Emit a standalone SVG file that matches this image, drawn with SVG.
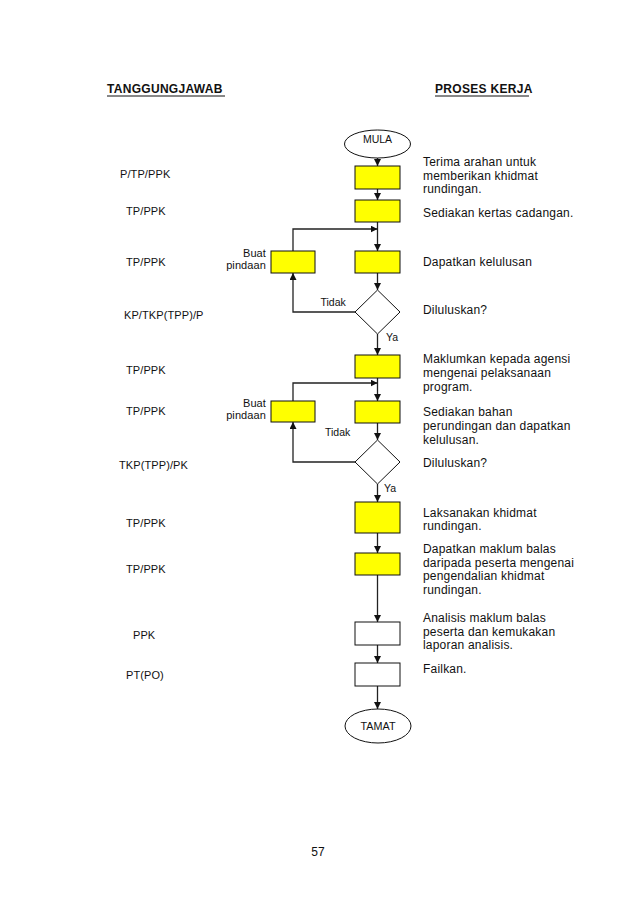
<svg xmlns="http://www.w3.org/2000/svg" width="638" height="901" viewBox="0 0 638 901">
<style>
text{font-family:"Liberation Sans",Arial,sans-serif;fill:#111}
.h{font-size:12px;font-weight:bold;letter-spacing:0.3px}
.r{font-size:12px;letter-spacing:0.2px}
.l{font-size:11px;letter-spacing:0.1px}
.s{font-size:10.5px}
.y{fill:#FFFF00;stroke:#111;stroke-width:1}
.w{fill:#fff;stroke:#111;stroke-width:1}
.c{fill:none;stroke:#222;stroke-width:1.3}
</style>
<defs>
<marker id="a" markerUnits="userSpaceOnUse" markerWidth="7" markerHeight="7" refX="7" refY="3.5" orient="auto">
<path d="M0,0 L7,3.5 L0,7 z" fill="#111"/>
</marker>
</defs>
<rect width="638" height="901" fill="#fff"/>

<g id="headers">
<text class="h" x="107" y="93">TANGGUNGJAWAB</text>
<line x1="107" y1="96" x2="225" y2="96" stroke="#111" stroke-width="1"/>
<text class="h" x="435" y="93">PROSES KERJA</text>
<line x1="435" y1="96" x2="529" y2="96" stroke="#111" stroke-width="1"/>
</g>

<g id="responsibility">
<text class="l" x="120" y="178">P/TP/PPK</text>
<text class="l" x="126" y="215">TP/PPK</text>
<text class="l" x="126" y="266">TP/PPK</text>
<text class="l" x="124" y="319">KP/TKP(TPP)/P</text>
<text class="l" x="126" y="374">TP/PPK</text>
<text class="l" x="126" y="415">TP/PPK</text>
<text class="l" x="119" y="469">TKP(TPP)/PK</text>
<text class="l" x="126" y="527">TP/PPK</text>
<text class="l" x="126" y="573">TP/PPK</text>
<text class="l" x="133" y="639">PPK</text>
<text class="l" x="126" y="679">PT(PO)</text>
</g>

<g id="process-text">
<text class="r" x="423" y="165.5">Terima arahan untuk</text>
<text class="r" x="423" y="179.5">memberikan khidmat</text>
<text class="r" x="423" y="193">rundingan.</text>
<text class="r" x="423" y="217">Sediakan kertas cadangan.</text>
<text class="r" x="423" y="265.5">Dapatkan kelulusan</text>
<text class="r" x="423" y="313.5">Diluluskan?</text>
<text class="r" x="423" y="363">Maklumkan kepada agensi</text>
<text class="r" x="423" y="377">mengenai pelaksanaan</text>
<text class="r" x="423" y="390.5">program.</text>
<text class="r" x="423" y="416">Sediakan bahan</text>
<text class="r" x="423" y="430">perundingan dan dapatkan</text>
<text class="r" x="423" y="443.5">kelulusan.</text>
<text class="r" x="423" y="467">Diluluskan?</text>
<text class="r" x="423" y="517">Laksanakan khidmat</text>
<text class="r" x="423" y="530">rundingan.</text>
<text class="r" x="423" y="553">Dapatkan maklum balas</text>
<text class="r" x="423" y="566.5">daripada peserta mengenai</text>
<text class="r" x="423" y="580">pengendalian khidmat</text>
<text class="r" x="423" y="593.5">rundingan.</text>
<text class="r" x="423" y="622">Analisis maklum balas</text>
<text class="r" x="423" y="635.5">peserta dan kemukakan</text>
<text class="r" x="423" y="649">laporan analisis.</text>
<text class="r" x="423" y="673">Failkan.</text>
</g>

<g id="connectors">
<line class="c" x1="377.5" y1="158" x2="377.5" y2="166" marker-end="url(#a)"/>
<line class="c" x1="377.5" y1="189" x2="377.5" y2="200" marker-end="url(#a)"/>
<line class="c" x1="377.5" y1="222" x2="377.5" y2="251" marker-end="url(#a)"/>
<polyline class="c" points="293,251 293,229 377.5,229" marker-end="url(#a)"/>
<line class="c" x1="377.5" y1="273" x2="377.5" y2="290" marker-end="url(#a)"/>
<polyline class="c" points="355,312 293,312 293,273" marker-end="url(#a)"/>
<line class="c" x1="377.5" y1="334" x2="377.5" y2="355" marker-end="url(#a)"/>
<line class="c" x1="377.5" y1="378" x2="377.5" y2="401" marker-end="url(#a)"/>
<polyline class="c" points="293,401 293,383 377.5,383" marker-end="url(#a)"/>
<line class="c" x1="377.5" y1="423" x2="377.5" y2="440" marker-end="url(#a)"/>
<polyline class="c" points="355,462 293,462 293,422" marker-end="url(#a)"/>
<line class="c" x1="377.5" y1="484" x2="377.5" y2="502" marker-end="url(#a)"/>
<line class="c" x1="377.5" y1="533" x2="377.5" y2="553" marker-end="url(#a)"/>
<line class="c" x1="377.5" y1="575" x2="377.5" y2="622" marker-end="url(#a)"/>
<line class="c" x1="377.5" y1="645" x2="377.5" y2="663" marker-end="url(#a)"/>
<line class="c" x1="377.5" y1="686" x2="377.5" y2="709" marker-end="url(#a)"/>
<text class="s" x="320.5" y="305.5">Tidak</text>
<text class="s" x="386" y="341">Ya</text>
<text class="s" x="325" y="436">Tidak</text>
<text class="s" x="384" y="491.5">Ya</text>
</g>

<g id="mula">
<ellipse class="w" cx="377.5" cy="144" rx="33" ry="14"/>
<text class="s" x="377.5" y="142.5" text-anchor="middle">MULA</text>
</g>
<g id="step1"><rect class="y" x="355" y="166" width="45" height="23"/></g>
<g id="step2"><rect class="y" x="355" y="200" width="45" height="22"/></g>
<g id="step3"><rect class="y" x="355" y="251" width="45" height="22"/></g>
<g id="amend1">
<rect class="y" x="271" y="251" width="44" height="22"/>
<text class="l" x="266" y="257" text-anchor="end">Buat</text>
<text class="l" x="266" y="268.5" text-anchor="end">pindaan</text>
</g>
<g id="decision1"><polygon class="w" points="377.5,290 400,312 377.5,334 355,312"/></g>
<g id="step4"><rect class="y" x="355" y="355" width="45" height="23"/></g>
<g id="step5"><rect class="y" x="355" y="401" width="45" height="22"/></g>
<g id="amend2">
<rect class="y" x="271" y="401" width="44" height="21"/>
<text class="l" x="266" y="407" text-anchor="end">Buat</text>
<text class="l" x="266" y="418.5" text-anchor="end">pindaan</text>
</g>
<g id="decision2"><polygon class="w" points="377.5,440 400,462 377.5,484 355,462"/></g>
<g id="step6"><rect class="y" x="355" y="502" width="45" height="31"/></g>
<g id="step7"><rect class="y" x="355" y="553" width="45" height="22"/></g>
<g id="step8"><rect class="w" x="355" y="622" width="45" height="23"/></g>
<g id="step9"><rect class="w" x="355" y="663" width="45" height="23"/></g>
<g id="tamat">
<ellipse class="w" cx="378" cy="726" rx="33" ry="17"/>
<text class="s" x="378" y="730" text-anchor="middle" style="font-size:10.8px">TAMAT</text>
</g>
<g id="page">
<text x="318" y="856" text-anchor="middle" style="font-size:12px">57</text>
</g>
</svg>
